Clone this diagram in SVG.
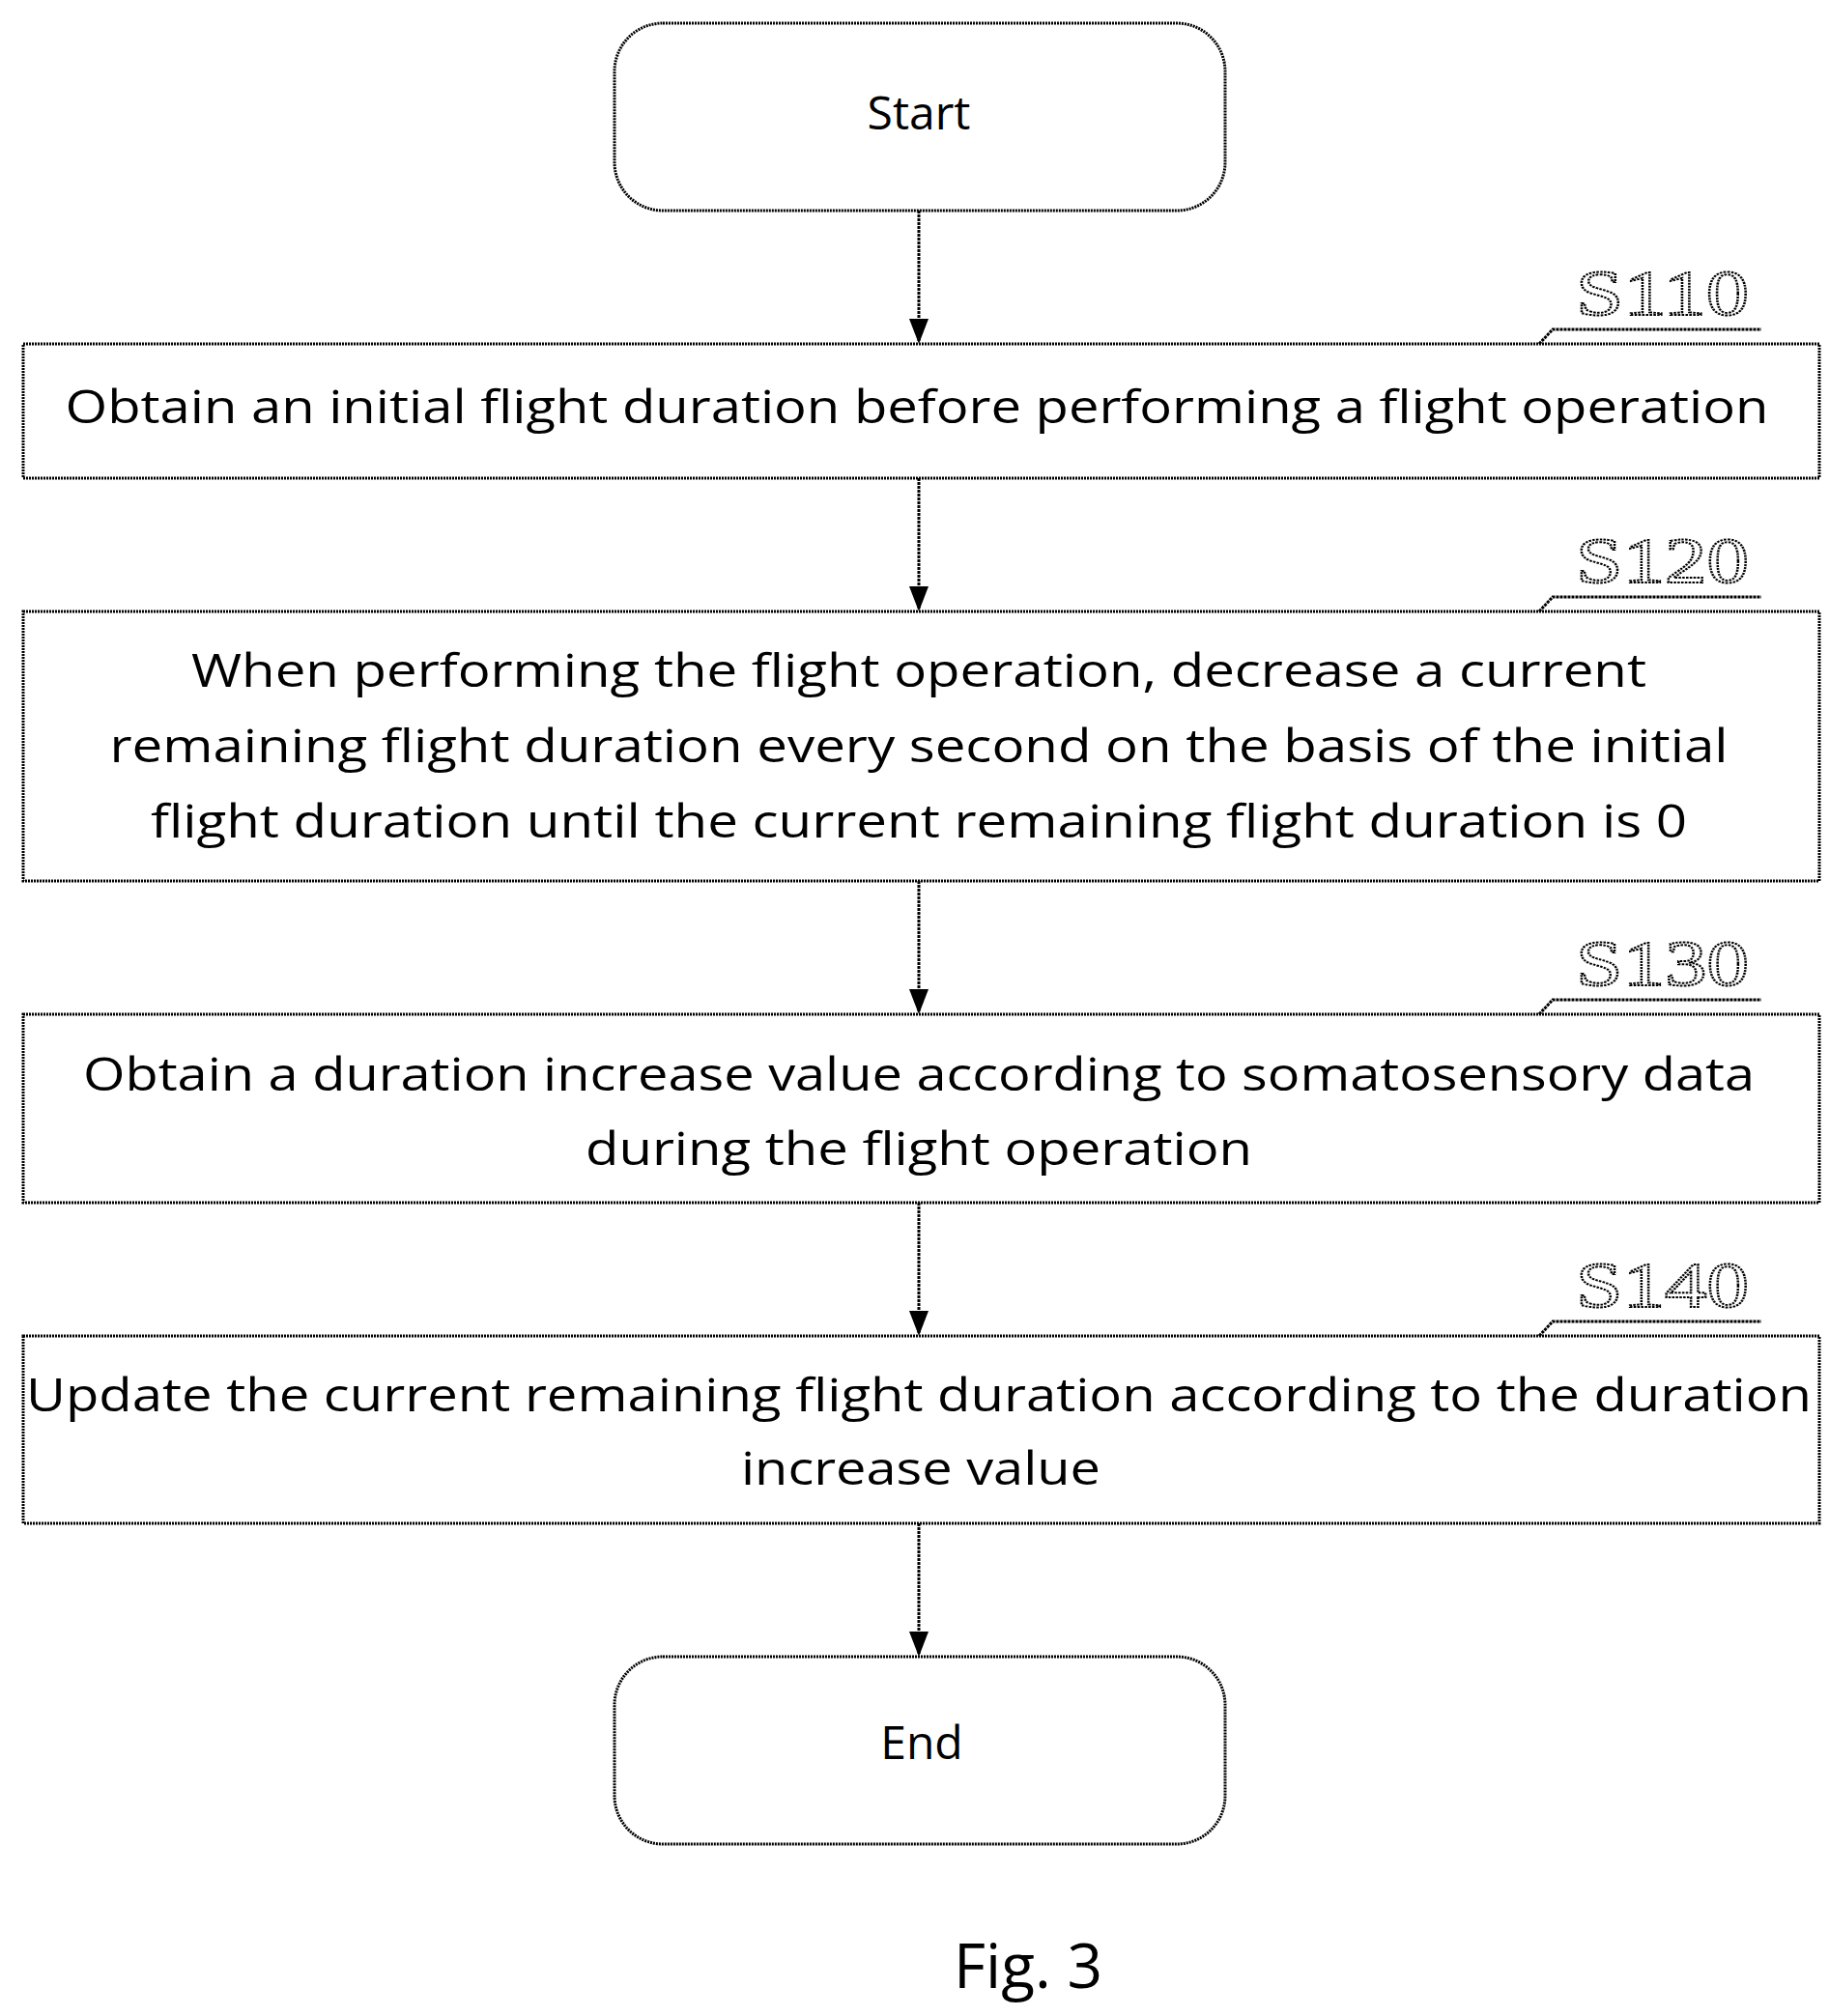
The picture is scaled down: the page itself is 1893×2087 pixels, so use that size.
<svg xmlns="http://www.w3.org/2000/svg" width="1893" height="2087" viewBox="0 0 1893 2087">
<defs>
<marker id="ah" markerWidth="26" markerHeight="30" refX="24" refY="13" orient="auto" markerUnits="userSpaceOnUse" viewBox="0 0 26 26"><path d="M0,3 L26,13 L0,23 Z" fill="#000"/></marker>
<style>
.box{fill:#fff;stroke:#000;stroke-width:3;stroke-dasharray:2 1}
.t{font-family:"Open Sans","Noto Sans",sans-serif;font-size:48px;text-anchor:middle;fill:#000}
.lbl{font-family:"Liberation Serif",serif;font-size:68px;fill:#fff;stroke:#000;stroke-width:2;stroke-dasharray:2 1}
.ln{stroke:#000;stroke-width:3;fill:none;stroke-dasharray:3 1}
</style>
</defs>
<rect width="1893" height="2087" fill="#fff"/>
<g id="connectors">
<line class="ln" x1="951" y1="218" x2="951" y2="354" marker-end="url(#ah)"/>
<line class="ln" x1="951" y1="495" x2="951" y2="631" marker-end="url(#ah)"/>
<line class="ln" x1="951" y1="912" x2="951" y2="1048" marker-end="url(#ah)"/>
<line class="ln" x1="951" y1="1245" x2="951" y2="1381" marker-end="url(#ah)"/>
<line class="ln" x1="951" y1="1577" x2="951" y2="1713" marker-end="url(#ah)"/>
</g>
<g id="start"><rect class="box" x="636" y="24" width="632" height="194" rx="50"/><text class="t" x="951" y="134">Start</text></g>
<g id="s110">
<rect class="box" x="24" y="356" width="1859" height="139"/>
<text class="t" x="949" y="438" textLength="1763" lengthAdjust="spacingAndGlyphs">Obtain an initial flight duration before performing a flight operation</text>
<path class="ln" d="M1593,356 L1607,341 L1823,341"/><text class="lbl" x="1631" y="326" textLength="179" lengthAdjust="spacingAndGlyphs">S110</text>
</g>
<g id="s120">
<rect class="box" x="24" y="633" width="1859" height="279"/>
<text class="t" x="951" y="711" textLength="1506" lengthAdjust="spacingAndGlyphs">When performing the flight operation, decrease a current</text>
<text class="t" x="951" y="789" textLength="1675" lengthAdjust="spacingAndGlyphs">remaining flight duration every second on the basis of the initial</text>
<text class="t" x="951" y="867" textLength="1590" lengthAdjust="spacingAndGlyphs">flight duration until the current remaining flight duration is 0</text>
<path class="ln" d="M1593,633 L1607,618 L1823,618"/><text class="lbl" x="1631" y="603" textLength="179" lengthAdjust="spacingAndGlyphs">S120</text>
</g>
<g id="s130">
<rect class="box" x="24" y="1050" width="1859" height="195"/>
<text class="t" x="951" y="1129" textLength="1730" lengthAdjust="spacingAndGlyphs">Obtain a duration increase value according to somatosensory data</text>
<text class="t" x="951" y="1206" textLength="690" lengthAdjust="spacingAndGlyphs">during the flight operation</text>
<path class="ln" d="M1593,1050 L1607,1035 L1823,1035"/><text class="lbl" x="1631" y="1020" textLength="179" lengthAdjust="spacingAndGlyphs">S130</text>
</g>
<g id="s140">
<rect class="box" x="24" y="1383" width="1859" height="194"/>
<text class="t" x="951" y="1461" textLength="1848" lengthAdjust="spacingAndGlyphs">Update the current remaining flight duration according to the duration</text>
<text class="t" x="953" y="1537" textLength="372" lengthAdjust="spacingAndGlyphs">increase value</text>
<path class="ln" d="M1593,1383 L1607,1368 L1823,1368"/><text class="lbl" x="1631" y="1353" textLength="179" lengthAdjust="spacingAndGlyphs">S140</text>
</g>
<g id="end"><rect class="box" x="636" y="1715" width="632" height="194" rx="50"/><text class="t" x="954" y="1821">End</text></g>
<text class="t" x="1064" y="2058" style="font-size:64px">Fig. 3</text>
</svg>
